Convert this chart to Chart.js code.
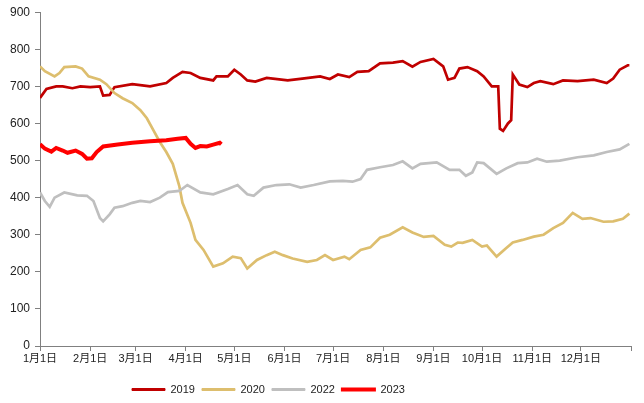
<!DOCTYPE html>
<html>
<head>
<meta charset="utf-8">
<script src="https://cdn.jsdelivr.net/npm/chart.js@4.4.0/dist/chart.umd.min.js"></script>
<style>
html, body { margin: 0; padding: 0; background: #fff; }
</style>
</head>
<body>
<canvas id="myChart" width="644" height="403"></canvas>
<script>
const ctx = document.getElementById('myChart');

// day of year (0 = 1月1日) for tick marks, and their labels
var tickDays = [0, 31, 59, 90, 120, 151, 181, 212, 243, 273, 304, 334, 365];
var tickLabels = ["1月1日", "2月1日", "3月1日", "4月1日", "5月1日", "6月1日", "7月1日", "8月1日", "9月1日", "10月1日", "11月1日", "12月1日", ""];

var days2019 = [0, 4, 10, 14, 20, 25, 31, 37, 39, 43, 46, 57, 68, 78, 82, 88, 93, 99, 107, 109, 116, 120, 124, 128, 133, 140, 153, 162, 173, 179, 184, 191, 196, 203, 210, 218, 224, 230, 235, 243, 249, 252, 256, 259, 264, 270, 274, 279, 283, 284, 286, 289, 291, 292, 296, 301, 305, 309, 317, 323, 332, 342, 350, 354, 358, 363, 364];
var v2019 = [669, 693, 700, 700, 695, 700, 698, 700, 675, 677, 698, 706, 700, 709, 723, 739, 736, 723, 716, 727, 727, 745, 732, 716, 713, 723, 716, 721, 727, 720, 732, 725, 739, 741, 762, 764, 768, 753, 766, 774, 754, 718, 723, 748, 752, 741, 727, 700, 700, 586, 580, 600, 609, 732, 705, 698, 709, 714, 706, 716, 714, 718, 709, 721, 745, 757, 757];

var days2020 = [0, 3, 9, 12, 15, 22, 26, 30, 37, 41, 46, 51, 57, 62, 66, 70, 74, 78, 82, 86, 88, 93, 96, 101, 107, 113, 119, 124, 128, 134, 140, 145, 150, 156, 165, 171, 176, 181, 188, 191, 198, 204, 210, 216, 224, 230, 237, 243, 250, 254, 258, 261, 267, 273, 276, 282, 288, 292, 298, 305, 311, 317, 323, 329, 335, 340, 348, 354, 360, 364];
var v2020 = [754, 741, 727, 736, 752, 754, 748, 727, 718, 706, 682, 668, 655, 636, 614, 582, 550, 523, 491, 432, 386, 332, 286, 259, 214, 223, 241, 237, 209, 232, 245, 254, 245, 236, 227, 232, 245, 232, 241, 234, 259, 266, 292, 300, 320, 306, 294, 297, 273, 268, 279, 278, 286, 268, 271, 241, 264, 279, 286, 295, 300, 318, 332, 359, 343, 345, 335, 336, 343, 357];

var days2022 = [0, 3, 6, 9, 15, 23, 29, 33, 37, 39, 43, 46, 51, 57, 62, 68, 74, 79, 86, 91, 99, 107, 116, 122, 128, 132, 138, 146, 154, 161, 169, 179, 187, 193, 198, 202, 210, 218, 224, 230, 235, 245, 253, 259, 263, 267, 270, 274, 282, 288, 295, 301, 307, 313, 321, 332, 342, 350, 358, 364];
var v2022 = [414, 391, 375, 400, 414, 406, 405, 391, 345, 336, 355, 373, 377, 386, 391, 388, 400, 415, 418, 434, 414, 409, 423, 434, 409, 405, 427, 434, 436, 427, 434, 444, 445, 443, 450, 475, 482, 488, 498, 479, 491, 495, 475, 475, 459, 468, 495, 493, 464, 479, 493, 495, 505, 497, 500, 509, 514, 523, 530, 545];

var days2023 = [0, 3, 7, 10, 14, 17, 22, 26, 29, 32, 35, 39, 48, 57, 68, 78, 85, 90, 93, 96, 99, 103, 107, 111, 112];
var v2023 = [544, 532, 524, 534, 527, 521, 527, 518, 505, 506, 523, 538, 543, 548, 552, 555, 559, 561, 545, 534, 539, 538, 543, 548, 544];

function points(days, vals) {
    return days.map(function (d, i) { return { x: d, y: vals[i] }; });
}

function line(label, days, vals, color, width, order) {
    return {
        label: label,
        data: points(days, vals),
        borderColor: color,
        backgroundColor: color,
        borderWidth: width,
        pointRadius: 0,
        tension: 0,
        order: order
    };
}

// the legend sits left of centre in the original
const legendShift = {
    id: 'legendShift',
    afterLayout: function (chart) {
        chart.legend.left = 125;
    }
};

const chart = new Chart(ctx, {
    type: 'line',
    data: {
        datasets: [
            line('2019', days2019, v2019, '#C00000', 2.7, 4),
            line('2020', days2020, v2020, '#DDBE6E', 2.7, 3),
            line('2022', days2022, v2022, '#BFBFBF', 2.7, 2),
            line('2023', days2023, v2023, '#FF0000', 4, 1)
        ]
    },
    plugins: [legendShift],
    options: {
        responsive: false,
        animation: false,
        layout: {
            padding: { top: 12, right: 13, left: 0, bottom: -2 }
        },
        scales: {
            x: {
                type: 'linear',
                min: 0,
                max: 365,
                afterBuildTicks: function (scale) {
                    scale.ticks = tickDays.map(function (d) { return { value: d }; });
                },
                afterFit: function (scale) { scale.height = 31; },
                ticks: {
                    autoSkip: false,
                    maxRotation: 0,
                    padding: 1,
                    color: '#222',
                    font: { family: 'Liberation Sans, Arial, Noto Sans CJK SC', size: 11 },
                    callback: function (value, index) {
                        return tickLabels[index];
                    }
                },
                grid: {
                    drawOnChartArea: false,
                    tickLength: 5,
                    color: '#808080'
                },
                border: { color: '#808080' }
            },
            y: {
                min: 0,
                max: 900,
                afterFit: function (scale) { scale.width = 40; },
                ticks: {
                    stepSize: 100,
                    padding: 5,
                    color: '#222',
                    font: { family: 'Liberation Sans, Arial', size: 12 }
                },
                grid: {
                    drawOnChartArea: false,
                    tickLength: 5,
                    color: '#808080'
                },
                border: { color: '#808080' }
            }
        },
        plugins: {
            legend: {
                position: 'bottom',
                align: 'start',
                labels: {
                    boxWidth: 33,
                    boxHeight: 2,
                    padding: 7,
                    color: '#222',
                    font: { family: 'Liberation Sans, Arial', size: 11 },
                    sort: function (a, b) { return a.datasetIndex - b.datasetIndex; },
                    generateLabels: function (chart) {
                        var items = Chart.defaults.plugins.legend.labels.generateLabels(chart);
                        items.forEach(function (item) {
                            item.lineWidth = item.datasetIndex === 3 ? 2 : 1;
                        });
                        return items;
                    }
                }
            },
            tooltip: { enabled: false }
        }
    }
});
</script>
</body>
</html>
